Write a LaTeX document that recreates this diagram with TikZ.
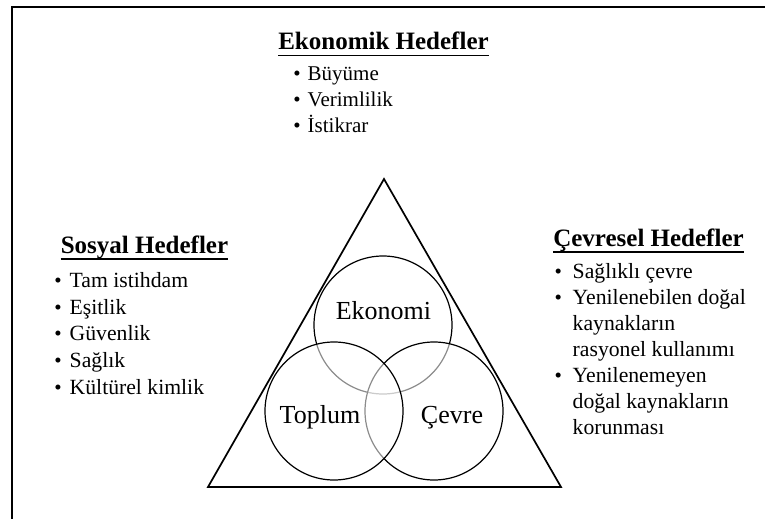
\documentclass[tikz,border=0pt]{standalone}
\usepackage{fontspec}
\setmainfont{Liberation Serif}
\begin{document}
\begin{tikzpicture}[x=1pt,y=-1pt,
  frame/.style={line width=1.6pt},
  tri/.style={line width=1.7pt},
  ring/.style={circle,draw,line width=1.2pt,minimum size=138pt,inner sep=0pt,
               fill=white,fill opacity=0.55,draw opacity=1},
  ringlabel/.style={anchor=base,inner sep=0pt,font=\fontsize{26}{30}\selectfont},
  heading/.style={anchor=base,inner sep=0pt,font=\fontsize{25}{30}\selectfont\bfseries},
  uline/.style={line width=1.8pt},
  bul/.style={anchor=base,inner sep=0pt,font=\fontsize{21}{26}\selectfont},
  itemtext/.style={anchor=base west,inner sep=0pt,font=\fontsize{21}{26}\selectfont},
  sidetext/.style={itemtext,font=\fontsize{21.7}{26}\selectfont}]
\useasboundingbox (0,0) rectangle (765,519);

% page frame (only top and left edges visible)
\coordinate (fr1) at (765,7.3);
\coordinate (fr2) at (11.7,7.3);
\coordinate (fr3) at (11.7,519);
\draw[frame] (fr1) -- (fr2) -- (fr3);

% triangle
\coordinate (apex) at (384,179);
\coordinate (bl) at (208,487);
\coordinate (br) at (561,487);
\draw[tri,line join=miter] (apex) -- (bl) -- (br) -- cycle;

% three overlapping circles
\node[ring] (ekonomi) at (383,325) {};
\node[ring] (cevre) at (434,411) {};
\node[ring] (toplum) at (334,411) {};
\node[ringlabel] (ekonomiL) at (383.5,319) {Ekonomi};
\node[ringlabel] (toplumL) at (320,423.5) {Toplum};
\node[ringlabel] (cevreL) at (452,423.5) {Çevre};

% economic goals
\node[heading] (ekT) at (383.5,50) {Ekonomik Hedefler};
\draw[uline] ([yshift=-5.5pt]ekT.base west) -- ([yshift=-5.5pt]ekT.base east);
\node[bul] (ekb1) at (297,80.7) {•};
\node[itemtext] (ek1) at (307.5,80.7) {Büyüme};
\node[bul] (ekb2) at (297,106.7) {•};
\node[itemtext] (ek2) at (307.5,106.7) {Verimlilik};
\node[bul] (ekb3) at (297,132.7) {•};
\node[itemtext] (ek3) at (307.5,132.7) {İstikrar};

% social goals
\node[heading] (soT) at (144.5,253.3) {Sosyal Hedefler};
\draw[uline] ([yshift=-5.5pt]soT.base west) -- ([yshift=-5.5pt]soT.base east);
\node[bul] (sob1) at (58,287) {•};
\node[sidetext] (so1) at (69.5,287) {Tam istihdam};
\node[bul] (sob2) at (58,314) {•};
\node[sidetext] (so2) at (69.5,314) {Eşitlik};
\node[bul] (sob3) at (58,340.5) {•};
\node[sidetext] (so3) at (69.5,340.5) {Güvenlik};
\node[bul] (sob4) at (58,367) {•};
\node[sidetext] (so4) at (69.5,367) {Sağlık};
\node[bul] (sob5) at (58,394) {•};
\node[sidetext] (so5) at (69.5,394) {Kültürel kimlik};

% environmental goals
\node[heading] (ceT) at (648.5,246.7) {Çevresel Hedefler};
\draw[uline] ([yshift=-5.5pt]ceT.base west) -- ([yshift=-5.5pt]ceT.base east);
\node[bul] (ceb1) at (558.3,278) {•};
\node[sidetext] (ce1) at (572.5,278) {Sağlıklı çevre};
\node[bul] (ceb2) at (558.3,304) {•};
\node[sidetext] (ce2a) at (572.5,304) {Yenilenebilen doğal};
\node[sidetext] (ce2b) at (572.5,330) {kaynakların};
\node[sidetext] (ce2c) at (572.5,356) {rasyonel kullanımı};
\node[bul] (ceb3) at (558.3,382) {•};
\node[sidetext] (ce3a) at (572.5,382) {Yenilenemeyen};
\node[sidetext] (ce3b) at (572.5,408) {doğal kaynakların};
\node[sidetext] (ce3c) at (572.5,434) {korunması};
\end{tikzpicture}
\end{document}
